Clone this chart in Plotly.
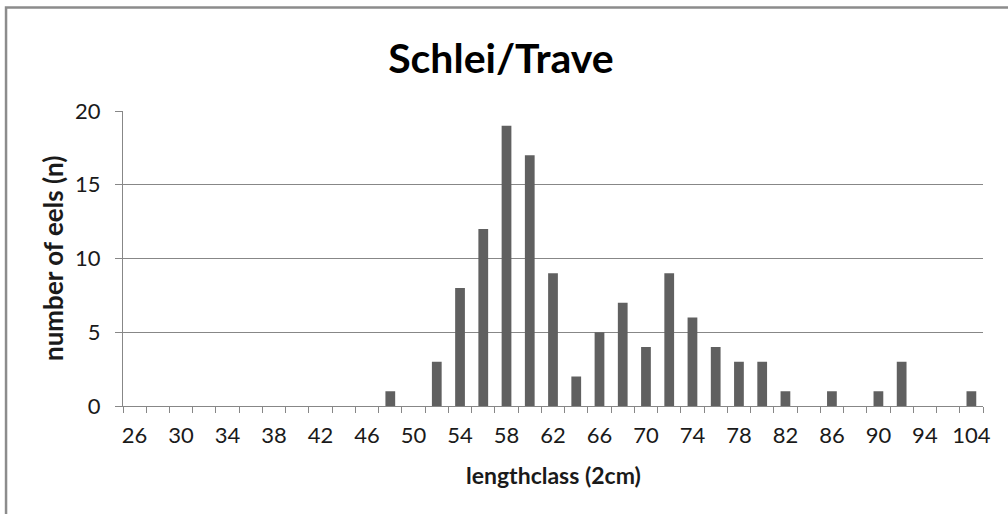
import plotly.graph_objects as go

# length classes (2cm), as shown on the category axis
length_classes = [str(v) for v in range(26, 97, 2)] + ["104"]
eel_counts = [0, 0, 0, 0, 0, 0, 0, 0, 0, 0, 0, 1, 0, 3, 8, 12, 19, 17, 9, 2,
              5, 7, 4, 9, 6, 4, 3, 3, 1, 0, 1, 0, 1, 3, 0, 0, 1]
# every other class gets a label
tick_labels = [c if i % 2 == 0 else "" for i, c in enumerate(length_classes)]

font = "Lato"
grey = "#878787"
text_col = "#1a1a1a"

fig = go.Figure()
fig.add_trace(
    go.Bar(
        x=length_classes,
        y=eel_counts,
        marker=dict(color="#606060", line=dict(width=0)),
        width=0.42,
    )
)

fig.update_layout(
    width=1008,
    height=514,
    margin=dict(l=123, r=25, t=111, b=108, autoexpand=False),
    paper_bgcolor="white",
    plot_bgcolor="white",
    showlegend=False,
    title=dict(
        text="<b>Schlei/Trave</b>",
        x=0.497,
        xanchor="center",
        y=0.885,
        yanchor="middle",
        font=dict(family=font, size=41, color="black"),
    ),
    font=dict(family=font, color=text_col),
)

fig.update_xaxes(
    type="category",
    tickmode="array",
    tickvals=length_classes,
    ticktext=tick_labels,
    tickson="boundaries",
    tickangle=0,
    automargin=False,
    ticks="outside",
    ticklen=6,
    tickcolor=grey,
    ticklabelstandoff=10,
    showline=True,
    linecolor=grey,
    linewidth=1,
    tickfont=dict(size=22, color=text_col),
    showgrid=False,
)
fig.update_yaxes(
    range=[0, 20],
    tickvals=[0, 5, 10, 15, 20],
    automargin=False,
    ticks="outside",
    ticklen=7,
    tickcolor=grey,
    ticklabelstandoff=10,
    showline=True,
    linecolor=grey,
    linewidth=1,
    showgrid=True,
    gridcolor=grey,
    gridwidth=1,
    zeroline=False,
    tickfont=dict(size=22, color=text_col),
)

# axis titles
fig.add_annotation(
    text="<b>lengthclass (2cm)</b>", xref="paper", yref="paper",
    x=0.5, y=-0.234, xanchor="center", yanchor="middle", showarrow=False,
    font=dict(size=23, color=text_col),
)
fig.add_annotation(
    text="<b>number of eels (n)</b>", xref="paper", yref="paper",
    x=-0.082, y=0.5, xanchor="center", yanchor="middle", showarrow=False,
    textangle=-90, font=dict(size=26, color=text_col),
)

# chart frame (only left and top edges visible in the image)
fig.add_shape(
    type="rect", xref="paper", yref="paper",
    x0=-0.136, x1=1.2, y0=-0.6, y1=1.351,
    line=dict(color="#8c8c8c", width=2.5), layer="below",
)

# drop the browser's default body margin so the figure sits at the page corner
fig.write_html(
    "out.html",
    config={"displayModeBar": False},
    post_script="document.body.style.margin='0px';",
)
